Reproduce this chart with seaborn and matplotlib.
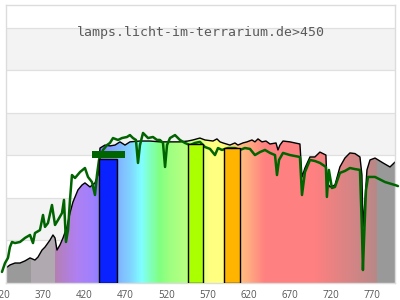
import numpy as np
import matplotlib
matplotlib.use('Agg')
import matplotlib.pyplot as plt
import matplotlib.colors as mcolors
from matplotlib.transforms import offset_copy
import seaborn as sns

# ---------------- data ----------------
black_nm = [325.0, 329.8, 335.9, 342.0, 348.1, 354.2, 360.2, 363.9, 368.8, 372.4,
            378.5, 382.1, 384.6, 387.0, 390.6, 394.3, 399.1, 402.8, 406.4, 412.5,
            417.4, 421.0, 427.1, 433.2, 436.8, 439.3, 445.3, 451.4, 457.5, 463.6,
            469.7, 475.7, 487.9, 500.0, 512.2, 524.4, 536.5, 546.2, 552.3, 560.8,
            566.9, 576.7, 581.5, 585.2, 588.8, 597.3, 603.4, 607.0, 613.1, 618.0,
            624.1, 627.7, 631.4, 636.2, 641.1, 646.0, 653.3, 655.7, 658.1, 661.8,
            670.3, 682.4, 684.9, 688.5, 694.6, 700.6, 706.7, 714.0, 715.2, 718.9,
            725.0, 731.0, 737.1, 743.2, 749.3, 755.4, 757.8, 759.0, 761.5, 763.9,
            767.6, 773.7, 783.4, 791.9, 798.0]
black_val = [7.1, 8.5, 9.4, 9.4, 10.4, 11.8, 10.8, 12.2, 15.5, 16.9,
             20.2, 22.6, 21.2, 15.5, 17.9, 21.2, 26.4, 32.9, 38.1, 43.8,
             46.1, 47.1, 45.2, 47.1, 50.8, 63.5, 64.9, 64.5, 64.9, 66.4,
             64.9, 66.4, 66.8, 66.8, 66.4, 66.4, 66.4, 66.8, 67.3, 68.2,
             67.3, 66.8, 67.8, 66.4, 65.9, 64.9, 65.9, 64.9, 65.9, 66.4,
             67.3, 66.4, 67.8, 66.4, 66.8, 65.4, 65.9, 62.6, 64.9, 66.8,
             66.4, 65.4, 49.9, 54.1, 59.3, 59.3, 61.6, 60.2, 47.5, 45.2,
             46.1, 54.6, 58.8, 61.2, 60.9, 59.3, 50.8, 26.4, 39.0, 53.2,
             57.9, 58.8, 56.5, 54.6, 56.9]

green_nm = [320.1, 323.8, 327.4, 329.8, 332.3, 335.9, 342.0, 348.1, 354.2, 357.8,
            360.2, 366.3, 370.0, 372.4, 376.0, 380.9, 384.6, 388.2, 393.1, 395.5,
            397.9, 400.4, 402.8, 405.2, 408.9, 415.0, 421.0, 424.7, 429.5, 433.2,
            435.6, 438.1, 443.0, 447.8, 451.4, 455.1, 461.2, 466.0, 472.1, 475.7,
            479.4, 483.0, 485.5, 487.9, 491.6, 497.7, 503.7, 508.6, 512.2, 515.9,
            518.4, 520.8, 524.4, 530.5, 536.5, 542.6, 548.7, 554.8, 560.8, 566.9,
            573.0, 579.1, 582.8, 587.6, 594.9, 603.4, 609.5, 615.5, 621.6, 627.7,
            633.8, 639.9, 646.0, 652.1, 654.5, 657.0, 661.8, 670.3, 682.4, 684.9,
            688.5, 694.6, 700.6, 706.7, 714.0, 715.2, 717.6, 721.3, 725.0, 731.0,
            737.1, 743.2, 749.3, 755.4, 757.8, 759.0, 760.3, 762.7, 765.2, 773.7,
            785.9, 798.0, 801.6]
green_val = [5.2, 9.4, 11.8, 16.9, 19.3, 18.8, 19.3, 21.2, 22.6, 18.8,
             23.5, 24.9, 32.0, 26.4, 28.2, 36.7, 27.3, 29.6, 32.9, 39.1,
             19.3, 24.9, 39.1, 50.8, 49.4, 52.2, 54.1, 49.9, 47.5, 41.4,
             50.8, 57.9, 62.6, 64.9, 65.9, 68.2, 67.3, 68.2, 68.7, 69.6,
             68.2, 67.3, 56.5, 64.9, 70.6, 68.2, 68.7, 67.3, 67.3, 65.9,
             54.6, 64.9, 68.2, 69.6, 67.3, 65.9, 64.9, 65.9, 66.4, 64.0,
             63.1, 60.2, 63.5, 62.6, 63.5, 63.5, 62.6, 63.5, 63.1, 60.2,
             61.6, 62.6, 61.2, 60.2, 50.8, 57.9, 61.2, 60.2, 59.3, 41.4,
             52.2, 57.9, 57.4, 56.5, 54.6, 40.5, 53.2, 44.7, 45.2, 51.8,
             52.7, 54.1, 53.6, 53.2, 24.9, 6.1, 20.2, 43.8, 49.9, 49.9,
             47.5, 46.1, 45.6]

bar_start = [438, 546, 590]
bar_end = [460, 565, 609]
bar_height = [58.2, 65.2, 63.3]
bar_colors = ['#0a22ff', '#aaff00', '#ffb400']

marker_start, marker_end = 429, 470
marker_low, marker_high = 58.8, 62.1

tick_values = [320, 370, 420, 470, 520, 570, 620, 670, 720, 770]
tick_labels = [str(t) for t in tick_values]
title = 'lamps.licht-im-terrarium.de>450'

grad_stop_nm = [325, 354.5, 355, 384.5, 385, 410, 430, 440, 460, 475, 490, 500,
                512, 525, 545, 566, 573, 588, 609, 622, 640, 700, 776.5, 777, 800]
grad_stop_col = ['#9a9a9a', '#9a9a9a', '#b0a9b0', '#b0a9b0', '#b47fb4', '#b080f0',
                 '#a080ff', '#8880ff', '#80b0ff', '#80d0ff', '#80ffff', '#80ffc0',
                 '#80ff80', '#a0ff80', '#b8ff80', '#e8ff80', '#ffff80', '#ffff80',
                 '#ffc080', '#ffa880', '#ff8080', '#ff8080', '#b88888', '#999999',
                 '#999999']

# ---------------- figure ----------------
sns.set_style('white')
plt.rcParams['font.family'] = ['Open Sans', 'DejaVu Sans']

XMIN, XMAX, YMAX = 325, 798, 130.8
fig = plt.figure(figsize=(4, 3), dpi=100)
ax = fig.add_axes([6 / 400, 17 / 300, 389 / 400, 278 / 300])
ax.set_facecolor('white')

for lo in (20, 60, 100):
    ax.axhspan(lo, lo + 20, color='#f3f3f3', lw=0, zorder=0)
for y in range(20, 121, 20):
    ax.axhline(y, color='#e0e0e0', lw=0.9, zorder=0.5)

# spectrum gradient fill under the black curve
gx = np.linspace(XMIN, XMAX, 1000)
srgb = np.array([mcolors.to_rgb(c) for c in grad_stop_col])
rgb = np.stack([np.interp(gx, grad_stop_nm, srgb[:, i]) for i in range(3)], axis=-1)
im = ax.imshow(rgb[np.newaxis], extent=(XMIN, XMAX, 0, YMAX), aspect='auto',
               origin='lower', interpolation='nearest', zorder=1)
poly = ax.fill_between(black_nm, 0, black_val, facecolor='none', edgecolor='none', zorder=1)
im.set_clip_path(poly.get_paths()[0], transform=ax.transData)

sns.lineplot(x=black_nm, y=black_val, color='black', lw=1.0, ax=ax, zorder=2)
sns.lineplot(x=green_nm, y=green_val, color='#006400', lw=1.8, ax=ax, zorder=3)
ax.lines[-1].set_clip_on(False)

ax.bar(bar_start, bar_height, width=np.subtract(bar_end, bar_start), align='edge',
       color=bar_colors, edgecolor='black', lw=1.0, zorder=4)
ax.bar([marker_start], [marker_high - marker_low], width=marker_end - marker_start,
       bottom=marker_low, align='edge', color='#006400', lw=0, zorder=5)

ax.set_xlim(XMIN, XMAX)
ax.set_ylim(0, YMAX)
ax.set_yticks([])
PAD = 5.2
FS = 7.0
ax.set_xticks(tick_values[1:])
ax.set_xticklabels(tick_labels[1:])
ax.tick_params(axis='x', length=0, pad=PAD, labelsize=FS, labelcolor='#555555')
# first label lies just outside the visible range (cut by figure edge)
tr = offset_copy(ax.get_xaxis_transform(), fig=fig, y=-PAD, units='points')
ax.text(tick_values[0], 0, tick_labels[0], transform=tr, ha='center', va='top',
        fontsize=FS, color='#555555', clip_on=False)

for s in ax.spines.values():
    s.set_color('#dcdcdc')
    s.set_linewidth(1.0)
    s.set_visible(True)

ax.text(0.5, 0.888, title, transform=ax.transAxes, ha='center', va='baseline',
        family='DejaVu Sans Mono', fontsize=9.5, color='#5a5a5a', zorder=6)

ax.set_xlabel('')
ax.set_ylabel('')
fig.savefig('out.png', dpi=100)
